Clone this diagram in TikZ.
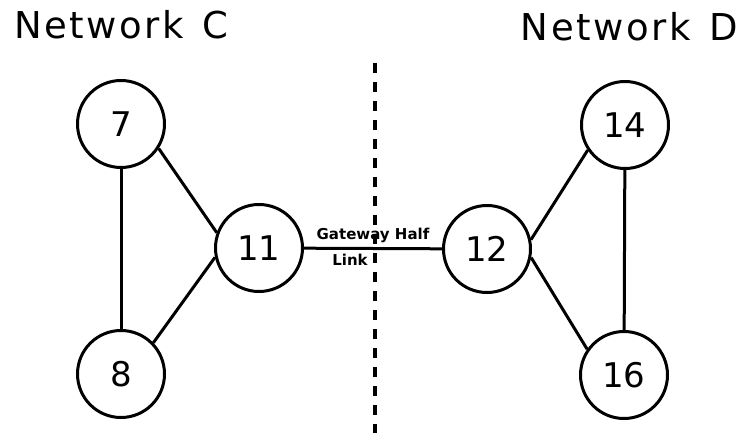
\documentclass[tikz,border=0pt]{standalone}
\usepackage{fontspec}
\setmainfont{DejaVu Sans}
\begin{document}
\begin{tikzpicture}  % ------ Gateway half link between two networks --------
      [x=1pt,y=-1pt,
       host/.style={draw,circle,line width=3pt,minimum size=87pt,inner sep=0pt,
                    font=\fontsize{34}{36}\selectfont},
       link/.style={line width=3pt},
       netname/.style={inner sep=0pt,font=\fontsize{37}{40}\selectfont\addfontfeature{LetterSpace=7}}]

    \useasboundingbox (0,0) rectangle (737,433);

    \node[netname,anchor=base west] (netC) at (14,39) {Network~\hspace{4pt}C};
    \node[netname,anchor=base east] (netD) at (738,41) {Network~\hspace{4pt}D};

    \coordinate (Top) at (375,63);
    \coordinate (Bot) at (375,433);
    \draw[line width=3.5pt,dash pattern=on 10pt off 9pt] (Top) -- (Bot);

    \node[host] (n7)  at (121,124) {7};
    \node[host] (n8)  at (121,374) {8};
    \node[host] (n11) at (259,248) {11};
    \node[host] (n12) at (487,249) {12};
    \node[host] (n14) at (625,125) {14};
    \node[host] (n16) at (624,375) {16};

    \draw[link] (n7) -- (n8) ;  \draw[link] (n7.-33) -- (n11.160) ;  \draw[link] (n8.44) -- (n11.192) ;
    \draw[link] (n14) -- (n16) ;  \draw[link] (n12.12) -- (n14.214) ;  \draw[link] (n12.-11) -- (n16.145) ;
    \draw[link] (n11) -- node[above=1pt,font=\bfseries\fontsize{15}{16}\selectfont] {Gateway Half}
                node[below=1pt,xshift=-23pt,font=\bfseries\fontsize{15}{16}\selectfont] {Link} (n12) ;
\end{tikzpicture}
\end{document}
